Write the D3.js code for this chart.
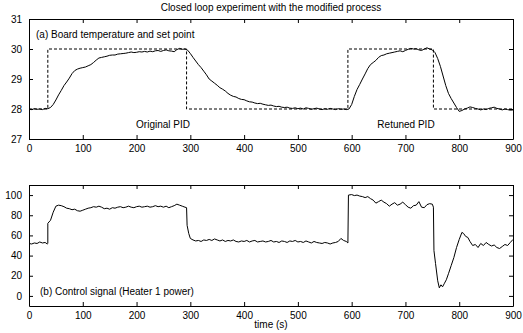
<!DOCTYPE html>
<html>
<head>
<meta charset="utf-8">
<script src="https://cdnjs.cloudflare.com/ajax/libs/d3/7.8.5/d3.min.js"></script>
<style>
  body { margin: 0; background: #fff; }
  text { font-family: "Liberation Sans", Arial, Helvetica, sans-serif; font-size: 10px; fill: #000; }
</style>
</head>
<body>
<script>
// data: [time (s), value]
var setPoint = [[0, 28], [35, 28], [35, 30], [293, 30], [293, 28], [593, 28], [593, 30], [752, 30], [752, 28], [900, 28]];

var boardTemp = [
  [0,28.0],[5,27.98],[10,28.01],[15,27.99],[20,28.0],[25,27.98],[30,28.02],[35,28.01],[40,28.05],[45,28.15],
  [50,28.3],[55,28.47],[60,28.62],[65,28.78],[70,28.9],[75,29.03],[80,29.18],[85,29.28],[90,29.33],[95,29.36],
  [100,29.38],[105,29.4],[110,29.44],[115,29.48],[120,29.55],[125,29.63],[130,29.7],[135,29.72],[140,29.74],[145,29.76],
  [150,29.79],[155,29.8],[160,29.8],[165,29.83],[170,29.84],[175,29.85],[180,29.86],[185,29.88],[190,29.9],[195,29.88],
  [200,29.89],[205,29.91],[210,29.9],[215,29.92],[220,29.9],[225,29.93],[230,29.91],[235,29.94],[240,29.95],[245,29.92],
  [250,29.95],[255,29.97],[260,29.94],[265,29.93],[270,29.91],[275,29.98],[280,30.02],[285,29.99],[290,30.0],[295,29.96],
  [300,29.85],[305,29.72],[310,29.6],[315,29.48],[320,29.38],[325,29.26],[330,29.14],[335,29.0],[340,28.93],[345,28.86],
  [350,28.79],[355,28.71],[360,28.66],[365,28.6],[370,28.52],[375,28.46],[380,28.42],[385,28.4],[390,28.35],[395,28.32],
  [400,28.31],[405,28.27],[410,28.24],[415,28.23],[420,28.2],[425,28.18],[430,28.19],[435,28.16],[440,28.14],[445,28.12],
  [450,28.13],[455,28.1],[460,28.08],[465,28.09],[470,28.06],[475,28.05],[480,28.06],[485,28.03],[490,28.02],[495,28.04],
  [500,28.01],[505,28.03],[510,28.0],[515,28.04],[520,28.02],[525,27.99],[530,28.01],[535,28.03],[540,28.0],[545,27.98],
  [550,28.01],[555,27.99],[560,28.02],[565,28.0],[570,27.98],[575,28.01],[580,27.99],[585,28.0],[590,27.98],[595,28.0],
  [600,28.15],[605,28.42],[610,28.65],[615,28.82],[620,29.0],[625,29.17],[630,29.35],[635,29.48],[640,29.55],[645,29.62],
  [650,29.72],[655,29.78],[660,29.8],[665,29.84],[670,29.86],[675,29.88],[680,29.9],[685,29.92],[690,29.94],[695,29.91],
  [700,29.95],[705,29.99],[710,30.02],[715,30.0],[720,30.01],[725,29.97],[730,29.95],[735,30.0],[740,30.04],[745,30.0],
  [750,29.97],[755,29.88],[760,29.68],[765,29.42],[770,29.1],[775,28.78],[780,28.52],[785,28.35],[790,28.2],[795,28.05],
  [800,27.92],[805,27.95],[810,28.0],[815,28.03],[820,28.07],[825,28.05],[830,28.02],[835,28.0],[840,27.97],[845,28.0],
  [850,27.98],[855,28.02],[860,28.04],[865,28.06],[870,28.02],[875,28.0],[880,27.97],[885,28.0],[890,27.98],[895,27.96],[900,27.97]
];

var heaterPower = [
  [0,52],[5,51.5],[10,52.5],[15,52],[20,53.5],[25,52.5],[30,53],[34,51.5],[35,52],[35,72],
  [40,75],[45,83],[50,89],[55,90],[60,89.5],[65,88.5],[70,87],[75,86.5],[80,85.5],[85,86],
  [90,84.5],[95,84],[100,85],[105,86],[110,87],[115,87.5],[120,88.5],[125,88],[130,89],[135,88],
  [140,86.5],[145,87],[150,86],[155,87.5],[160,87],[165,88],[170,88.5],[175,87.5],[180,88],[185,89],
  [190,88],[195,87.5],[200,88.5],[205,89],[210,88],[215,88.5],[220,89],[225,88],[230,88.5],[235,89.5],
  [240,88.5],[245,89],[250,88],[255,89],[260,87.5],[265,88.5],[270,89.5],[275,91],[280,90],[285,89],
  [290,88],[293,87.5],[294,70],[297,62],[300,57],[305,55.5],[310,54.5],[315,55],[320,54],[325,55.5],
  [330,55],[335,56],[340,55],[345,56.5],[350,55.5],[355,54.5],[360,55.5],[365,54],[370,55],[375,54.5],
  [380,55.5],[385,54],[390,53.5],[395,54.5],[400,54],[405,55],[410,53.5],[415,54.5],[420,55],[425,53.5],
  [430,54],[435,54.5],[440,53.5],[445,54],[450,55],[455,53.5],[460,54],[465,53],[470,54.5],[475,54],
  [480,53],[485,54.5],[490,54],[495,55],[500,53.5],[505,54],[510,53],[515,54.5],[520,53.5],[525,52.5],
  [530,54],[535,53],[540,52.5],[545,52],[550,53],[555,52.5],[560,51.5],[565,52.5],[570,53],[575,54],
  [580,57],[585,55],[590,54],[593,52.5],[594,100],[600,100.5],[605,99.5],[610,100],[615,99],[620,98.5],
  [625,97.5],[630,98.5],[635,96.5],[640,95],[645,92],[650,93.5],[655,95],[660,93],[665,91.5],[670,89],
  [675,91],[680,92.5],[685,90],[690,91],[695,93],[700,90.5],[705,88],[710,87],[715,89.5],[720,90],
  [725,93.5],[730,88],[735,87.5],[740,90.5],[745,91.5],[750,91],[752,88],[753,45],[756,32],[760,15],
  [763,8],[766,11],[769,9],[772,12],[776,16],[780,22],[785,30],[790,38],[795,48],[800,56],
  [805,63],[808,62],[812,59],[816,58],[820,54],[825,50],[830,51],[835,48],[840,52],[845,50],
  [850,53],[855,51],[860,49.5],[865,50.5],[870,48],[875,47],[880,49],[885,51],[890,50],[895,53],[900,56]
];

var timeTicks = [0, 100, 200, 300, 400, 500, 600, 700, 800, 900];
var tempTicks = [27, 28, 29, 30, 31];
var powerTicks = [0, 20, 40, 60, 80, 100];

var width = 523, height = 333;
var left = 29, right = 513;

var svg = d3.select("body").append("svg")
  .attr("width", width).attr("height", height);

var x = d3.scaleLinear().domain([0, 900]).range([left, right]);
var yTop = d3.scaleLinear().domain([27, 31]).range([139, 19]);
var yBot = d3.scaleLinear().domain([-10, 110]).range([306, 185]);

function panel(y, yTicks) {
  var g = svg.append("g");
  var y0 = y.range()[0], y1 = y.range()[1];
  g.append("g").attr("transform", "translate(0," + y0 + ")")
    .call(d3.axisBottom(x).tickValues(timeTicks).tickFormat(d3.format("d")).tickSize(-4).tickPadding(6).tickSizeOuter(0));
  g.append("g").attr("transform", "translate(0," + y1 + ")")
    .call(d3.axisTop(x).tickValues(timeTicks).tickSize(-4).tickFormat("").tickSizeOuter(0));
  g.append("g").attr("transform", "translate(" + left + ",0)")
    .call(d3.axisLeft(y).tickValues(yTicks).tickFormat(d3.format("d")).tickSize(-4).tickPadding(7).tickSizeOuter(0));
  g.append("g").attr("transform", "translate(" + right + ",0)")
    .call(d3.axisRight(y).tickValues(yTicks).tickSize(-4).tickFormat("").tickSizeOuter(0));
  g.selectAll(".domain").attr("stroke", "#000");
  g.selectAll(".tick line").attr("stroke", "#000");
  g.selectAll(".tick text").attr("font-size", 10).attr("font-family", "Liberation Sans, Arial, sans-serif");
  return g;
}

panel(yTop, tempTicks);
panel(yBot, powerTicks);

var lineTop = d3.line().x(d => x(d[0])).y(d => yTop(d[1]));
var lineBot = d3.line().x(d => x(d[0])).y(d => yBot(d[1]));

svg.append("path").datum(setPoint).attr("d", lineTop)
  .attr("fill", "none").attr("stroke", "#000").attr("stroke-width", 1).attr("stroke-dasharray", "3,2");
svg.append("path").datum(boardTemp).attr("d", lineTop)
  .attr("fill", "none").attr("stroke", "#000").attr("stroke-width", 1);
svg.append("path").datum(heaterPower).attr("d", lineBot)
  .attr("fill", "none").attr("stroke", "#000").attr("stroke-width", 1);

// labels
svg.append("text").attr("x", (left + right) / 2).attr("y", 11).attr("text-anchor", "middle")
  .text("Closed loop experiment with the modified process");
svg.append("text").attr("x", 36).attr("y", 38).text("(a) Board temperature and set point");
svg.append("text").attr("x", 163).attr("y", 128).attr("text-anchor", "middle").text("Original PID");
svg.append("text").attr("x", 406).attr("y", 128).attr("text-anchor", "middle").text("Retuned PID");
svg.append("text").attr("x", 40).attr("y", 295).text("(b) Control signal (Heater 1 power)");
svg.append("text").attr("x", (left + right) / 2).attr("y", 328).attr("text-anchor", "middle").text("time (s)");
</script>
</body>
</html>
